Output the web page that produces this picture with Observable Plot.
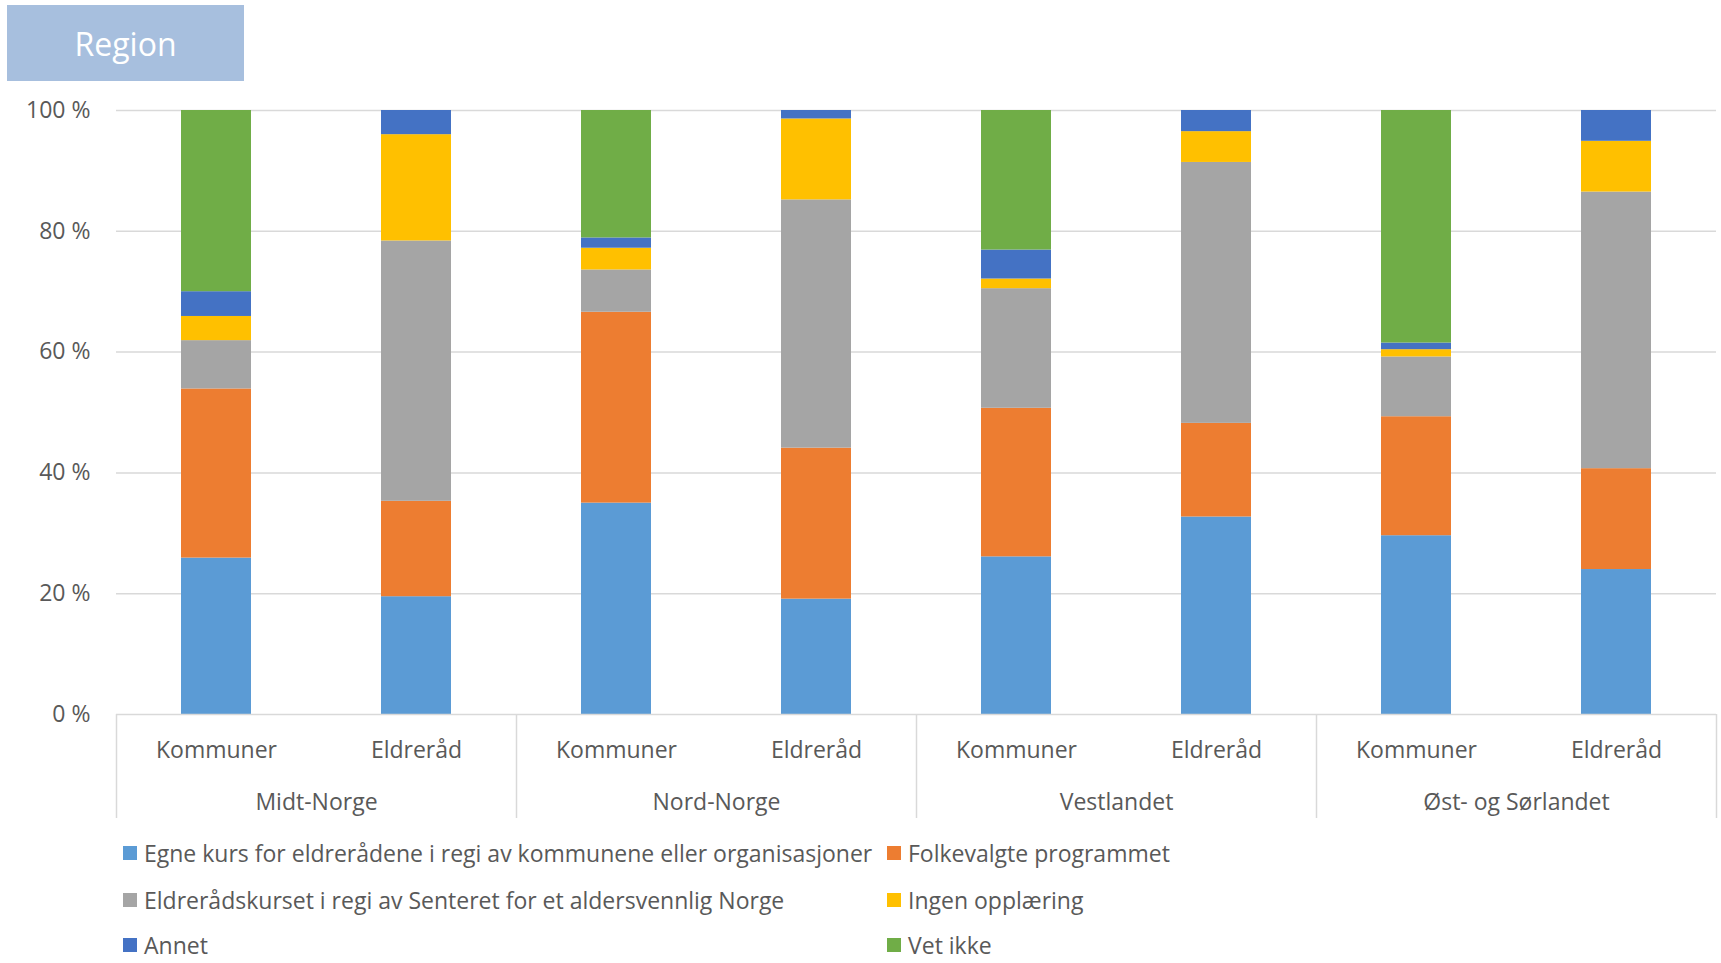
<!DOCTYPE html>
<html>
<head>
<meta charset="utf-8">
<script src="https://cdn.jsdelivr.net/npm/d3@7"></script>
<script src="https://cdn.jsdelivr.net/npm/@observablehq/plot@0.6"></script>
<style>
  html, body { margin: 0; padding: 0; background: #fff; }
  #wrap { position: relative; width: 1721px; height: 963px; font-family: "Open Sans", sans-serif; color: #595959; }
  #title { position: absolute; left: 7px; top: 5px; width: 237px; height: 76px; background: #a7bfde; color: #fff;
           font-size: 32px; display: flex; align-items: center; justify-content: center; }
  #chart { position: absolute; left: 0; top: 0; }
  .lg { position: absolute; display: flex; align-items: center; font-size: 23px; white-space: nowrap; line-height: 24px; }
  .lg span.sw { display: inline-block; width: 14px; height: 14px; margin-right: 7px; }
</style>
</head>
<body>
<div id="wrap">
  <div id="chart"></div>
  <div id="title">Region</div>
  <div id="legend"></div>
</div>
<script>
// ---- data ----
const regions = ["Midt-Norge", "Nord-Norge", "Vestlandet", "Øst- og Sørlandet"];
const types = ["Kommuner", "Eldreråd"];
const series = [
  "Egne kurs for eldrerådene i regi av kommunene eller organisasjoner",
  "Folkevalgte programmet",
  "Eldrerådskurset i regi av Senteret for et aldersvennlig Norge",
  "Ingen opplæring",
  "Annet",
  "Vet ikke"
];
const colors = ["#5b9bd5", "#ed7d31", "#a5a5a5", "#ffc000", "#4472c4", "#70ad47"];
// values per series, order: Midt K, Midt E, Nord K, Nord E, Vest K, Vest E, Øst K, Øst E
const egneKurs      = [25.9, 19.5, 35.0, 19.1, 26.1, 32.7, 29.6, 24.0];
const folkevalgte   = [28.0, 15.8, 31.6, 25.0, 24.6, 15.5, 19.7, 16.7];
const eldreradskurs = [ 8.0, 43.1,  7.0, 41.1, 19.8, 43.2,  9.9, 45.8];
const ingen         = [ 4.0, 17.6,  3.6, 13.4,  1.6,  5.1,  1.2,  8.4];
const annet         = [ 4.1,  4.0,  1.7,  1.4,  4.8,  3.5,  1.1,  5.1];
const vetIkke       = [30.0,  0.0, 21.1,  0.0, 23.1,  0.0, 38.5,  0.0];
const yTicks = [0, 20, 40, 60, 80, 100];

// ---- build table ----
const seriesValues = [egneKurs, folkevalgte, eldreradskurs, ingen, annet, vetIkke];
const keys = [];
const cats = [];
regions.forEach(r => types.forEach(t => { keys.push(r + "|" + t); cats.push({key: r + "|" + t, region: r, type: t}); }));
const rows = [];
keys.forEach((k, i) => series.forEach((s, j) => rows.push({key: k, series: s, value: seriesValues[j][i]})));
const regionFirst = regions.map(r => ({key: r + "|" + types[0], region: r}));
const regionLast = [{key: regions[regions.length - 1] + "|" + types[types.length - 1]}];

const W = 1721, H = 830, mL = 116, mR = 5;
const step = (W - mL - mR) / keys.length;
const grid = "#d9d9d9";

const plot = Plot.plot({
  width: W,
  height: H,
  marginLeft: mL,
  marginRight: mR,
  marginTop: 110,
  marginBottom: 12,
  style: {fontFamily: "Open Sans, sans-serif", fontSize: "23px", color: "#595959", background: "transparent"},
  x: {domain: keys, paddingInner: 0.65, paddingOuter: 0.325, axis: null},
  y: {domain: [0, 100], range: [714, 110], axis: null},
  color: {domain: series, range: colors},
  marks: [
    Plot.gridY(yTicks.filter(d => d > 0), {stroke: grid, strokeOpacity: 1, strokeWidth: 1.5}),
    Plot.axisY(yTicks, {tickSize: 0, tickPadding: 26, tickFormat: d => d + " %", fontSize: 23, fill: "#595959", label: null}),
    Plot.barY(rows, {x: "key", y: "value", fill: "series", order: series}),
    Plot.ruleY([0], {stroke: grid, strokeWidth: 1.5}),
    Plot.ruleX(regionFirst, {x: "key", dx: -step / 2, stroke: grid, strokeWidth: 1.5, insetTop: 604}),
    Plot.ruleX(regionLast, {x: "key", dx: step / 2, stroke: grid, strokeWidth: 1.5, insetTop: 604}),
    Plot.text(cats, {x: "key", text: "type", frameAnchor: "bottom", dy: -61, fontSize: 23, fill: "#595959"}),
    Plot.text(regionFirst, {x: "key", text: "region", frameAnchor: "bottom", dy: -9, dx: step / 2, fontSize: 23, fill: "#595959"})
  ]
});
document.getElementById("chart").appendChild(plot);

// ---- legend ----
const legend = document.getElementById("legend");
const legendPos = [[123, 853], [887, 853], [123, 900], [887, 900], [123, 945], [887, 945]];
series.forEach((s, i) => {
  const d = document.createElement("div");
  d.className = "lg";
  d.style.left = legendPos[i][0] + "px";
  d.style.top = (legendPos[i][1] - 12) + "px";
  d.style.height = "24px";
  d.innerHTML = `<span class="sw" style="background:${colors[i]}"></span><span>${s}</span>`;
  legend.appendChild(d);
});
</script>
</body>
</html>
